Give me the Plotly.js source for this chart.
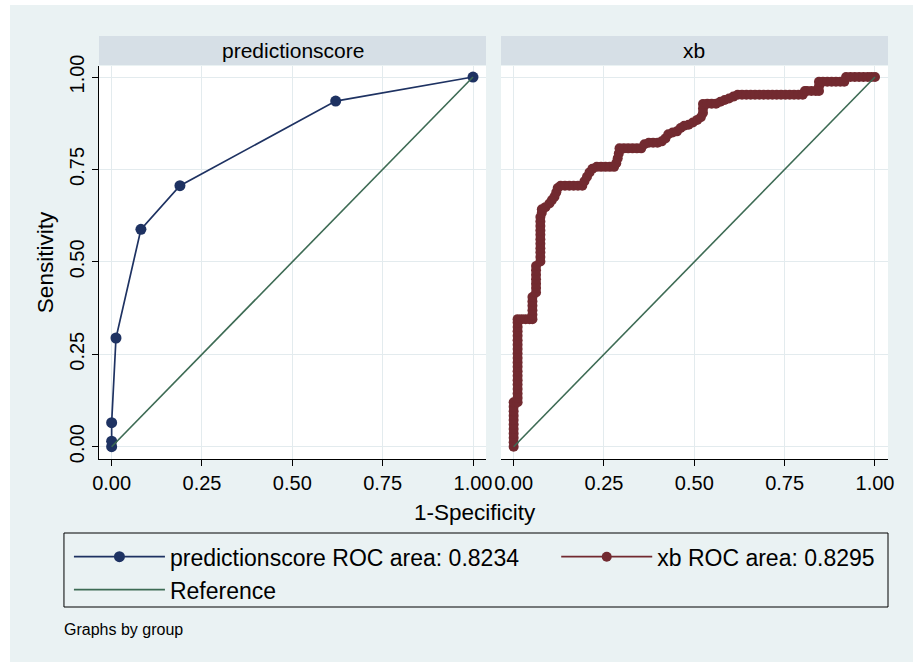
<!DOCTYPE html>
<html>
<head>
<meta charset="utf-8">
<script src="https://cdn.plot.ly/plotly-3.0.1.min.js"></script>
<style>
  html, body { margin: 0; padding: 0; background: #ffffff; }
  #chart { position: absolute; left: 10px; top: 5px; width: 903px; height: 657px; }
</style>
</head>
<body>
<div id="chart"></div>
<script>
// ---- data ----
const panelNames = ["predictionscore", "xb"];
const legendNames = ["predictionscore ROC area: 0.8234", "xb ROC area: 0.8295", "Reference"];
const tickVals = [0, 0.25, 0.5, 0.75, 1];
const tickText = ["0.00", "0.25", "0.50", "0.75", "1.00"];

// predictionscore ROC (1-specificity, sensitivity)
const psX = [0, 0, 0, 0.012, 0.081, 0.189, 0.620, 1];
const psY = [0, 0.015, 0.065, 0.294, 0.588, 0.706, 0.935, 1];

// xb ROC (1-specificity, sensitivity)
const xbX = [
  0, 0, 0, 0, 0, 0, 0, 0, 0, 0, 0,
  0.011, 0.011, 0.011, 0.011, 0.011, 0.011, 0.011, 0.011, 0.011, 0.011,
  0.011, 0.011, 0.011, 0.011, 0.011, 0.011, 0.011, 0.011, 0.011, 0.011,
  0.022, 0.033, 0.044, 0.052,
  0.052, 0.052, 0.052, 0.052, 0.052,
  0.062, 0.062, 0.062, 0.062, 0.062, 0.062, 0.062,
  0.074, 0.074, 0.074, 0.074, 0.074, 0.074, 0.074, 0.074, 0.074, 0.074, 0.074,
  0.078, 0.078,
  0.088, 0.099, 0.106, 0.113, 0.118, 0.122, 0.130,
  0.142, 0.154, 0.166, 0.178, 0.190,
  0.196, 0.203, 0.210, 0.218, 0.230, 0.242, 0.254, 0.266, 0.278, 0.284, 0.288, 0.291, 0.293,
  0.305, 0.317, 0.329, 0.341, 0.353,
  0.362, 0.374, 0.386, 0.398, 0.410, 0.420, 0.428, 0.440, 0.452, 0.462, 0.472, 0.484, 0.496, 0.508, 0.518,
  0.524, 0.524, 0.524,
  0.536, 0.548, 0.560,
  0.572, 0.584, 0.596, 0.608, 0.620,
  0.632, 0.644, 0.656, 0.668, 0.680, 0.692, 0.704, 0.716, 0.728, 0.740, 0.752, 0.764, 0.776, 0.788, 0.800,
  0.806, 0.812, 0.824, 0.836, 0.845,
  0.845, 0.845,
  0.856, 0.868, 0.880, 0.892, 0.904, 0.915,
  0.920, 0.932, 0.944, 0.956, 0.968, 0.980, 0.990, 1.000
];
const xbY = [
  0, 0.012, 0.024, 0.036, 0.048, 0.060, 0.072, 0.084, 0.096, 0.108, 0.120,
  0.120, 0.132, 0.144, 0.156, 0.168, 0.180, 0.192, 0.204, 0.216, 0.228,
  0.240, 0.252, 0.264, 0.276, 0.288, 0.300, 0.312, 0.324, 0.336, 0.345,
  0.345, 0.345, 0.345, 0.345,
  0.357, 0.369, 0.381, 0.393, 0.405,
  0.417, 0.429, 0.441, 0.453, 0.465, 0.477, 0.489,
  0.501, 0.513, 0.525, 0.537, 0.549, 0.561, 0.573, 0.585, 0.597, 0.609, 0.621,
  0.633, 0.642,
  0.648, 0.658, 0.667, 0.676, 0.688, 0.700, 0.706,
  0.706, 0.706, 0.706, 0.706, 0.706,
  0.718, 0.730, 0.742, 0.752, 0.757, 0.757, 0.757, 0.757, 0.757, 0.767, 0.780, 0.793, 0.807,
  0.807, 0.807, 0.807, 0.807, 0.807,
  0.818, 0.822, 0.822, 0.822, 0.826, 0.834, 0.845, 0.850, 0.853, 0.862, 0.868, 0.871, 0.877, 0.884, 0.891,
  0.903, 0.915, 0.927,
  0.928, 0.928, 0.928,
  0.933, 0.938, 0.942, 0.947, 0.952,
  0.952, 0.952, 0.952, 0.952, 0.952, 0.952, 0.952, 0.952, 0.952, 0.952, 0.952, 0.952, 0.952, 0.952, 0.952,
  0.962, 0.962, 0.962, 0.962, 0.962,
  0.975, 0.987,
  0.987, 0.987, 0.987, 0.987, 0.987, 0.987,
  1.000, 1.000, 1.000, 1.000, 1.000, 1.000, 1.000, 1.000
];

const refX = [0, 1];
const refY = [0, 1];

// ---- styling ----
const FONT = 'Arial, "Liberation Sans", sans-serif';
const navy = '#1e3262';
const maroon = '#722a30';
const refGreen = '#3d6b54';
const bg = '#EAF2F3';
const strip = '#d6dfe6';
const grid = '#e3ebee';

const traces = [
  {x: psX, y: psY, xaxis: 'x', yaxis: 'y', type: 'scatter', mode: 'lines+markers',
   name: legendNames[0], legend: 'legend',
   line: {color: navy, width: 1.7}, marker: {color: navy, size: 11}},
  {x: refX, y: refY, xaxis: 'x', yaxis: 'y', type: 'scatter', mode: 'lines',
   name: legendNames[2], legend: 'legend',
   line: {color: refGreen, width: 1.6}},
  {x: xbX, y: xbY, xaxis: 'x2', yaxis: 'y2', type: 'scatter', mode: 'lines+markers',
   name: legendNames[1], legend: 'legend2',
   line: {color: maroon, width: 1.7}, marker: {color: maroon, size: 10}},
  {x: refX, y: refY, xaxis: 'x2', yaxis: 'y2', type: 'scatter', mode: 'lines',
   name: legendNames[2], showlegend: false,
   line: {color: refGreen, width: 1.6}}
];

const xAxisBase = {
  range: [-0.035, 1.036], tickvals: tickVals, ticktext: tickText,
  showgrid: true, gridcolor: grid, gridwidth: 1, zeroline: false,
  showline: true, linecolor: '#000', linewidth: 1,
  ticks: 'outside', ticklen: 6, tickcolor: '#000', tickwidth: 1,
  tickfont: {size: 20, family: FONT, color: '#000'}, fixedrange: true
};
const yAxisBase = {
  range: [-0.0333, 1.0298], tickvals: tickVals, ticktext: tickText,
  showgrid: true, gridcolor: grid, gridwidth: 1, zeroline: false,
  tickfont: {size: 20, family: FONT, color: '#000'}, fixedrange: true
};

const layout = {
  width: 903, height: 657,
  margin: {l: 89, r: 25, t: 61, b: 203, pad: 0},
  paper_bgcolor: bg, plot_bgcolor: '#ffffff',
  font: {family: FONT, color: '#000', size: 20},
  showlegend: true,
  xaxis: Object.assign({}, xAxisBase, {domain: [0, 0.4905], anchor: 'y'}),
  xaxis2: Object.assign({}, xAxisBase, {domain: [0.5095, 1], anchor: 'y2'}),
  yaxis: Object.assign({}, yAxisBase, {domain: [0, 1], anchor: 'x',
    showline: true, linecolor: '#000', linewidth: 1,
    ticks: 'outside', ticklen: 6, tickcolor: '#000', tickangle: -90}),
  yaxis2: Object.assign({}, yAxisBase, {domain: [0, 1], anchor: 'x2',
    showline: false, ticks: '', showticklabels: false}),
  legend: {x: -0.0381, y: -0.194, xanchor: 'left', yanchor: 'top',
    orientation: 'v', bgcolor: 'rgba(0,0,0,0)', borderwidth: 0,
    font: {size: 23, family: FONT, color: '#000'}, itemwidth: 91, tracegroupgap: 0,
    traceorder: 'normal'},
  legend2: {x: 0.5795, y: -0.194, xanchor: 'left', yanchor: 'top',
    orientation: 'v', bgcolor: 'rgba(0,0,0,0)', borderwidth: 0,
    font: {size: 23, family: FONT, color: '#000'}, itemwidth: 91},
  shapes: [
    {type: 'rect', xref: 'x domain', yref: 'paper', x0: 0, x1: 1, y0: 1.0025, y1: 1.0763,
     fillcolor: strip, line: {width: 0}, layer: 'below'},
    {type: 'rect', xref: 'x2 domain', yref: 'paper', x0: 0, x1: 1, y0: 1.0025, y1: 1.0763,
     fillcolor: strip, line: {width: 0}, layer: 'below'},
    {type: 'rect', xref: 'paper', yref: 'paper', x0: -0.0444, x1: 1.0, y0: -0.3766, y1: -0.1883,
     fillcolor: 'rgba(0,0,0,0)', line: {color: '#000', width: 1}}
  ],
  annotations: [
    {text: panelNames[0], xref: 'x domain', yref: 'paper', x: 0.5, y: 1.039,
     xanchor: 'center', yanchor: 'middle',
     showarrow: false, font: {size: 21, family: FONT, color: '#000'}},
    {text: panelNames[1], xref: 'x2 domain', yref: 'paper', x: 0.5, y: 1.039,
     xanchor: 'center', yanchor: 'middle',
     showarrow: false, font: {size: 21, family: FONT, color: '#000'}},
    {text: 'Sensitivity', xref: 'paper', yref: 'paper', x: -0.0684, y: 0.501,
     xanchor: 'center', yanchor: 'middle',
     textangle: -90, showarrow: false, font: {size: 22.5, family: FONT, color: '#000'}},
    {text: '1-Specificity', xref: 'paper', yref: 'paper', x: 0.4766, y: -0.1349,
     xanchor: 'center', yanchor: 'middle',
     showarrow: false, font: {size: 22.5, family: FONT, color: '#000'}},
    {text: 'Graphs by group', xref: 'paper', yref: 'paper', x: -0.0469, y: -0.435,
     xanchor: 'left', yanchor: 'middle', showarrow: false, font: {size: 16, family: FONT, color: '#000'}}
  ]
};

Plotly.newPlot('chart', traces, layout, {displayModeBar: false, staticPlot: true});
</script>
</body>
</html>
